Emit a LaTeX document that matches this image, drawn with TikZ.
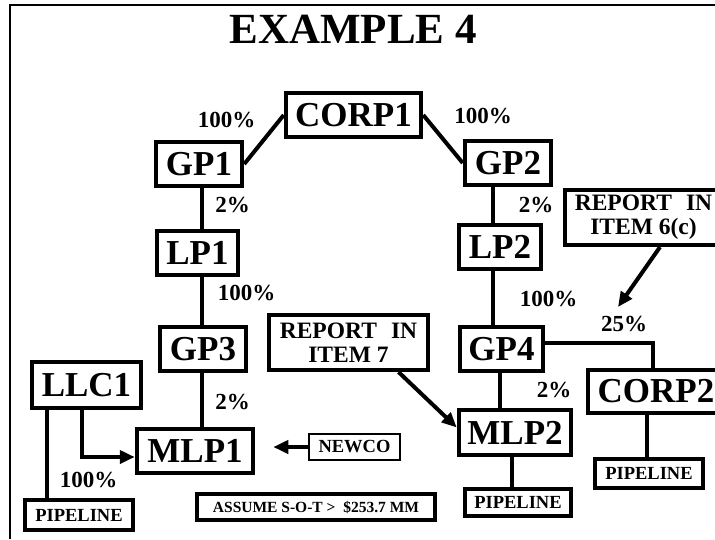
\documentclass[tikz,border=0pt]{standalone}
\usepackage{fontspec}
\setmainfont{Liberation Serif}
\usetikzlibrary{arrows.meta}
\tikzstyle{box3}=[draw,line width=4.5pt,inner sep=0pt,minimum height=44pt,font=\fontsize{35}{35}\selectfont\bfseries]

\begin{document}
\begin{tikzpicture}[x=1pt,y=-1pt]

\tikzstyle{box2}=[box3,line width=4pt,minimum height=28pt,font=\fontsize{18.5}{18.5}\selectfont\bfseries]
\tikzstyle{note}=[box3,line width=4pt,align=center,minimum height=55pt,font=\fontsize{23.5}{24}\selectfont\bfseries]
\tikzstyle{pct}=[inner sep=0pt,font=\fontsize{23}{23}\selectfont\bfseries]
\tikzstyle{link}=[line width=4pt]
\tikzstyle{arrow}=[link,-{Triangle[length=15pt,width=13pt]}]

\clip (0,0) rectangle (715,539);
\draw [line width=2pt] (10,539) -- (10,5) -- (715,5);

\node (title) [inner sep=0pt,font=\fontsize{43}{43}\selectfont\bfseries] at (353,29) {EXAMPLE 4};

\node (corp1) [box3, minimum width=135pt]  at (353.5,115) {CORP1};
\node (gp1)   [box3, minimum width=86pt]   at (199,164)   {GP1};
\node (gp2)   [box3, minimum width=86pt]   at (508,163)   {GP2};
\node (lp1)   [box3, minimum width=81pt]   at (197.5,253) {LP1};
\node (lp2)   [box3, minimum width=82pt]   at (500,247)   {LP2};
\node (gp3)   [box3, minimum width=86pt]   at (203,349)   {GP3};
\node (gp4)   [box3, minimum width=83pt]   at (501.5,349) {GP4};
\node (llc1)  [box3, minimum width=109pt, minimum height=46pt] at (86.5,385) {LLC1};
\node (mlp1)  [box3, minimum width=116pt]  at (195,451)   {MLP1};
\node (mlp2)  [box3, minimum width=112pt, minimum height=45pt] at (515,432.5) {MLP2};
\node (corp2) [box3, minimum width=136pt, minimum height=43pt] at (656,391.5) {CORP2};

\node (rep7)  [note, minimum width=159pt]  at (348.5,342.5) {REPORT\hspace{0.6em}IN\\ITEM 7};
\node (rep6)  [note, minimum width=157pt]  at (643.5,217.5) {REPORT\hspace{0.6em}IN\\ITEM 6(c)};

\node (newco)  [box2, line width=1.5pt, minimum width=91pt, minimum height=26pt] at (354.5,447) {NEWCO};
\node (assume) [box2, minimum width=238pt, minimum height=26pt,
                font=\fontsize{15.5}{15.5}\selectfont\bfseries] at (316,507) {ASSUME S-O-T >\ \ \$253.7 MM};
\node (pipe1)  [box2, minimum width=108pt, minimum height=30pt] at (79,515)    {PIPELINE};
\node (pipe2)  [box2, minimum width=106pt, minimum height=27pt] at (518,502.5) {PIPELINE};
\node (pipe3)  [box2, minimum width=108pt, minimum height=29pt] at (649,473.5) {PIPELINE};

% ownership shares
\node (pcorpA) [pct] at (226.5,120) {100\%};
\node (pcorpB) [pct] at (483,116)   {100\%};
\node (pgpA)   [pct] at (232.5,205) {2\%};
\node (pgpB)   [pct] at (536,205)   {2\%};
\node (plpA)   [pct] at (246.5,293) {100\%};
\node (plpB)   [pct] at (548.5,299) {100\%};
\node (pcorpC) [pct] at (624,324)   {25\%};
\node (pmlpA)  [pct] at (232.5,402) {2\%};
\node (pmlpB)  [pct] at (554,390)   {2\%};
\node (pllc)   [pct] at (88.5,480)  {100\%};

\draw [link] (corp1.west) -- (gp1.east);
\draw [link] (corp1.east) -- (gp2.west);
\draw [link] ([xshift=3pt]gp1.south) -- ([xshift=3pt]gp1.south |- lp1.north);
\draw [link] ([xshift=4pt]lp1.south) -- ([xshift=4pt]lp1.south |- gp3.north);
\draw [link] ([xshift=-1pt]gp3.south) -- ([xshift=-1pt]gp3.south |- mlp1.north);
\draw [link] ([xshift=-15pt]gp2.south) -- ([xshift=-15pt]gp2.south |- lp2.north);
\draw [link] ([xshift=-7pt]lp2.south) -- ([xshift=-7pt]lp2.south |- gp4.north);
\draw [link] ([xshift=-1.5pt]gp4.south) -- ([xshift=-1.5pt]gp4.south |- mlp2.north);
\draw [link] ([xshift=-3pt]mlp2.south) -- ([xshift=-3pt]mlp2.south |- pipe2.north);
\draw [link] ([yshift=6pt]gp4.east) -| ([xshift=-3pt]corp2.north);
\draw [link] ([xshift=-2pt]pipe3.north) -- ([xshift=-2pt]pipe3.north |- corp2.south);
\draw [link] ([xshift=-40pt]llc1.south) -- ([xshift=-40pt]llc1.south |- pipe1.north);

\draw [arrow] ([xshift=-4.5pt]llc1.south) |- ([yshift=-6pt]mlp1.west);
\draw [arrow, shorten >=18pt] (newco.west) -- (mlp1.east |- newco.west);
\draw [arrow] ([xshift=50pt]rep7.south) -- ([yshift=5pt]mlp2.west);
\draw [arrow] ([xshift=16.5pt]rep6.south) -- ([xshift=-6pt,yshift=9pt]pcorpC.north);

\end{tikzpicture}
\end{document}
